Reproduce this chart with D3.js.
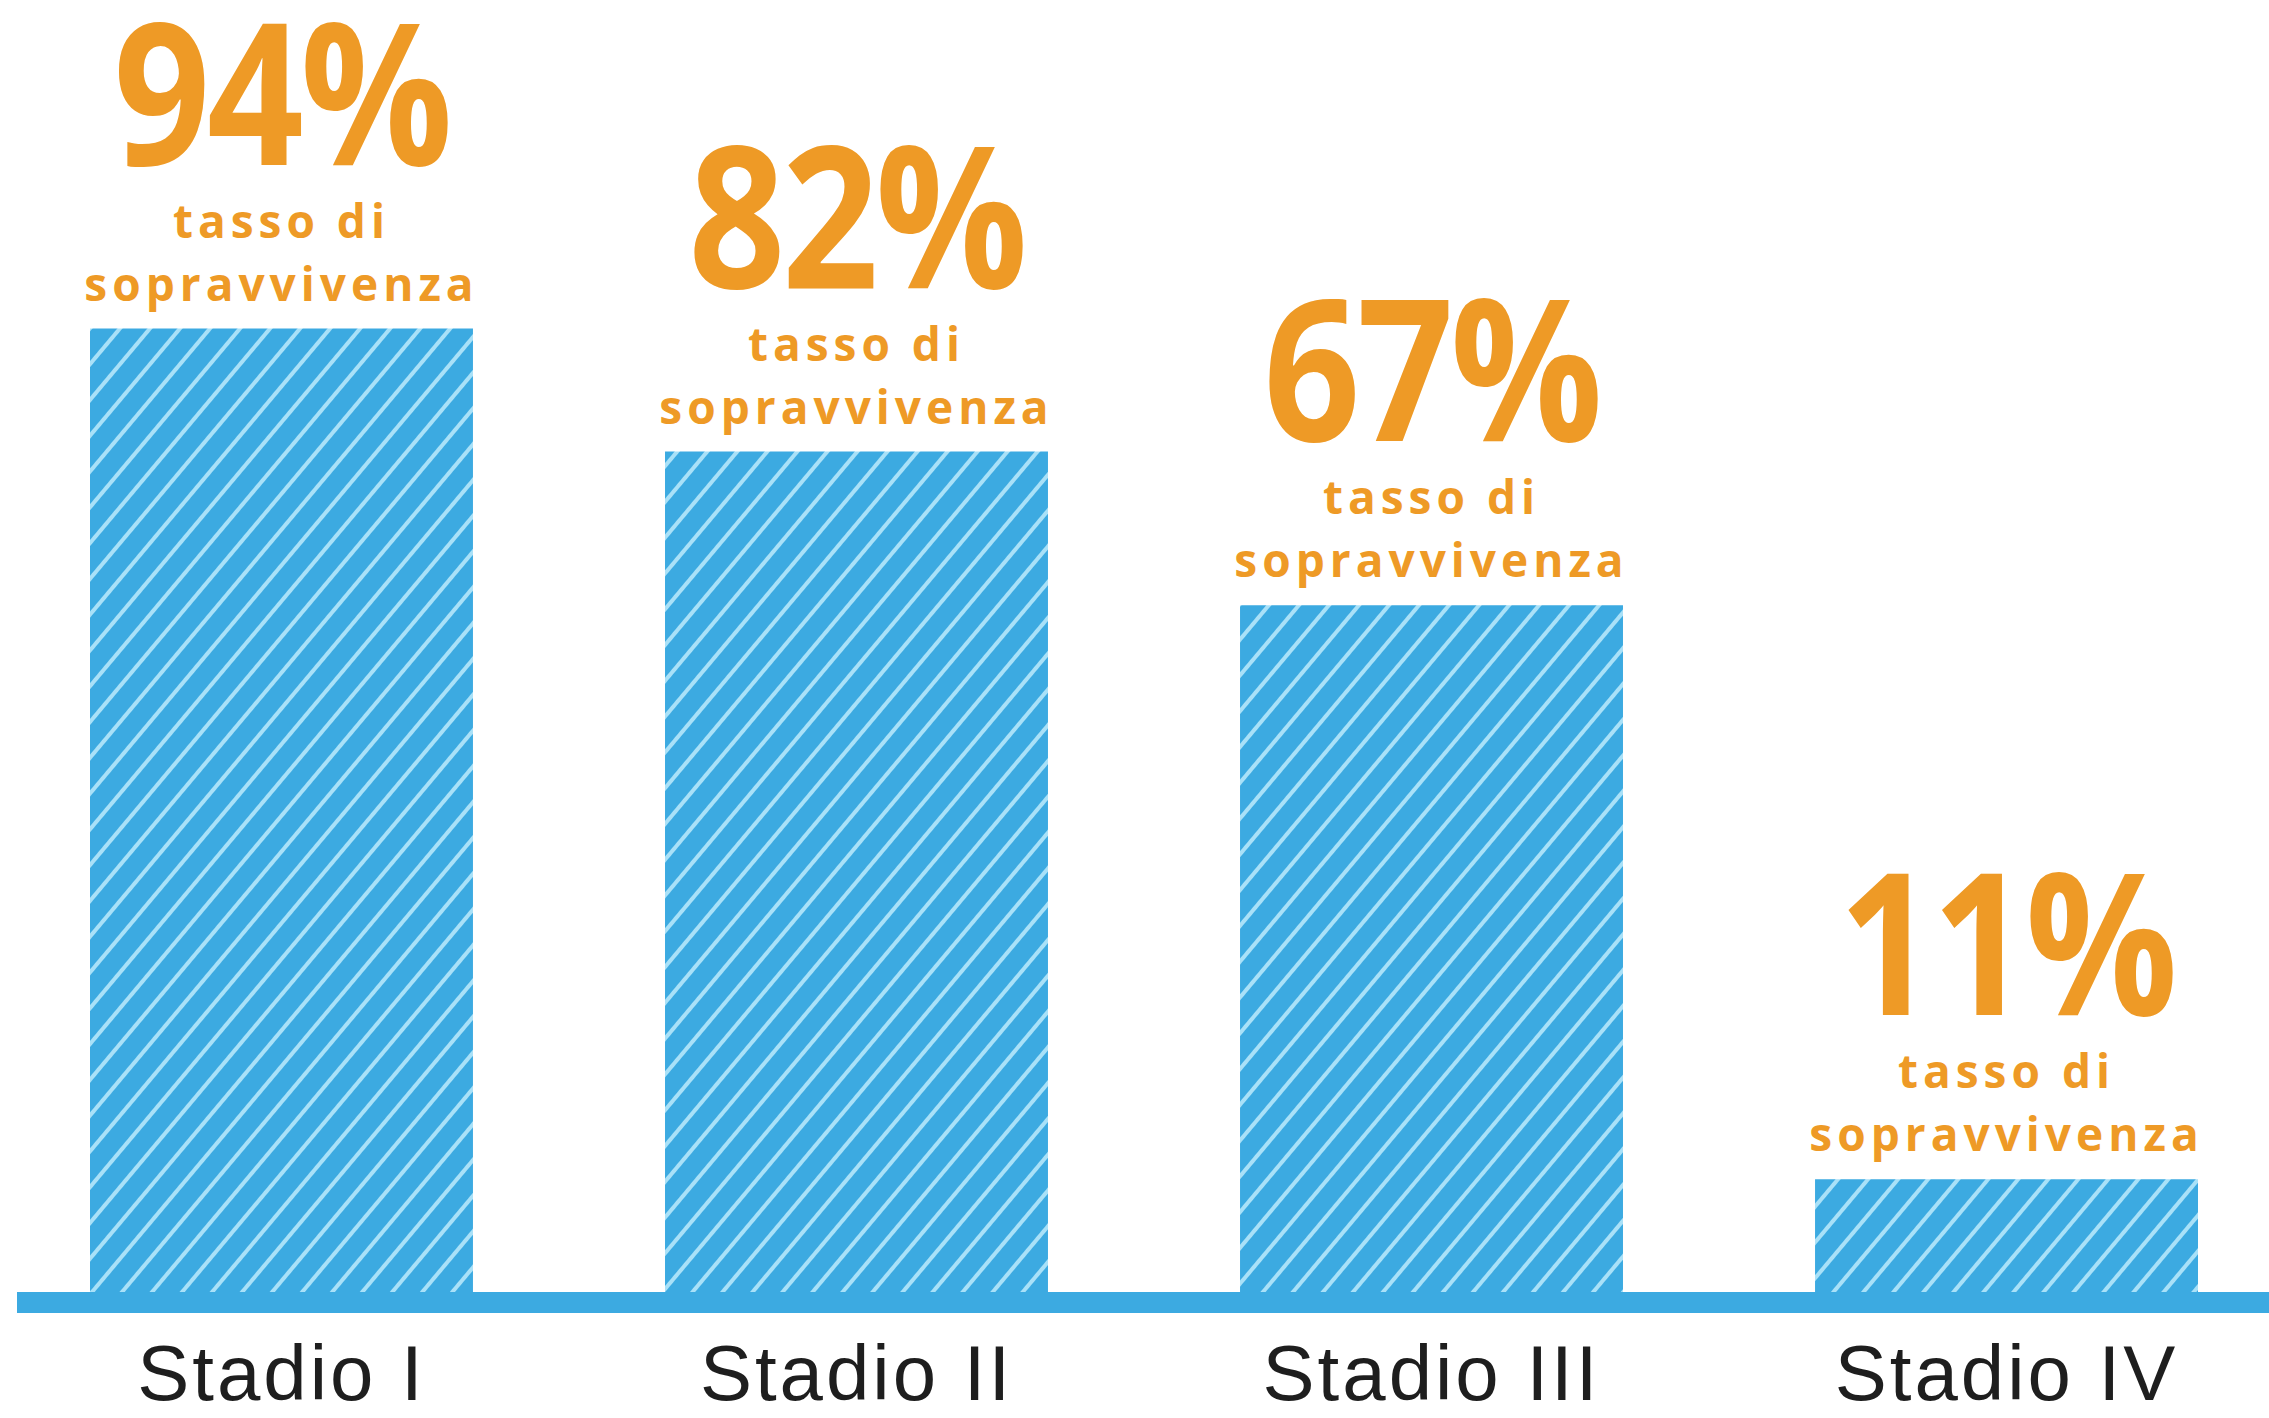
<!DOCTYPE html>
<html>
<head>
<meta charset="utf-8">
<script src="https://d3js.org/d3.v7.min.js"></script>
<style>
  body { margin: 0; background: #ffffff; }
  svg { display: block; }
</style>
</head>
<body>
<div id="chart"></div>
<script>
// Data
var stages = ["Stadio I", "Stadio II", "Stadio III", "Stadio IV"];
var survival = [94, 82, 67, 11];
var subLine1 = "tasso di";
var subLine2 = "sopravvivenza";

var svgWidth = 2269;
var svgHeight = 1418;

var baseY = 1292;
var orange = "#ee9a26";
var blue = "#3caae1";

var svg = d3.select("#chart")
  .append("svg")
  .attr("width", svgWidth)
  .attr("height", svgHeight);

// Stripe pattern for the bars
var defs = svg.append("defs");
var pattern = defs.append("pattern")
  .attr("id", "stripes")
  .attr("patternUnits", "userSpaceOnUse")
  .attr("width", 23)
  .attr("height", 20)
  .attr("patternTransform", "rotate(40)");

pattern.append("rect")
  .attr("width", 23)
  .attr("height", 20)
  .attr("fill", blue);

pattern.append("line")
  .attr("x1", 4).attr("y1", 0)
  .attr("x2", 4).attr("y2", 20)
  .attr("stroke", "#a9e1f8")
  .attr("stroke-width", 4);

// Scales
var xScale = d3.scaleBand()
  .domain(stages)
  .range([90, 2198])
  .paddingInner(0.334)
  .paddingOuter(0);

var yScale = d3.scaleLinear()
  .domain([0, 100])
  .range([baseY, baseY - 1025]);

// Bars
svg.selectAll(".bar")
  .data(survival)
  .enter()
  .append("rect")
  .attr("class", "bar")
  .attr("x", (d, i) => xScale(stages[i]))
  .attr("y", d => yScale(d))
  .attr("width", xScale.bandwidth())
  .attr("height", d => baseY - yScale(d))
  .attr("fill", "url(#stripes)");

// Baseline + category labels
var xAxis = svg.append("g")
  .attr("transform", `translate(0, ${baseY + 10})`)
  .call(d3.axisBottom(xScale).tickSize(0).tickPadding(0));

xAxis.select(".domain").remove();

xAxis.append("rect")
  .attr("x", 17)
  .attr("y", -10)
  .attr("width", svgWidth - 17)
  .attr("height", 21)
  .attr("fill", blue);

xAxis.selectAll(".tick text")
  .attr("y", 98)
  .attr("dy", 0)
  .attr("font-family", "'Liberation Sans', Arial, sans-serif")
  .attr("font-size", 78)
  .attr("letter-spacing", 3)
  .attr("fill", "#1e1e1e");

// Value labels
var labels = svg.selectAll(".label")
  .data(survival)
  .enter()
  .append("g")
  .attr("class", "label")
  .attr("transform", (d, i) => `translate(${xScale(stages[i]) + xScale.bandwidth() / 2}, ${yScale(d)})`);

labels.append("text")
  .attr("transform", "translate(0, -164) scale(0.86, 1)")
  .attr("text-anchor", "middle")
  .attr("font-family", "'Open Sans', sans-serif")
  .attr("font-weight", 700)
  .attr("font-size", 197)
  .attr("letter-spacing", -4)
  .attr("fill", orange)
  .text(d => d + "%");

labels.append("text")
  .attr("y", -91)
  .attr("text-anchor", "middle")
  .attr("font-family", "'Open Sans', sans-serif")
  .attr("font-weight", 700)
  .attr("font-size", 46)
  .attr("letter-spacing", 5)
  .attr("fill", orange)
  .text(subLine1);

labels.append("text")
  .attr("y", -28)
  .attr("text-anchor", "middle")
  .attr("font-family", "'Open Sans', sans-serif")
  .attr("font-weight", 700)
  .attr("font-size", 46)
  .attr("letter-spacing", 5)
  .attr("fill", orange)
  .text(subLine2);
</script>
</body>
</html>
